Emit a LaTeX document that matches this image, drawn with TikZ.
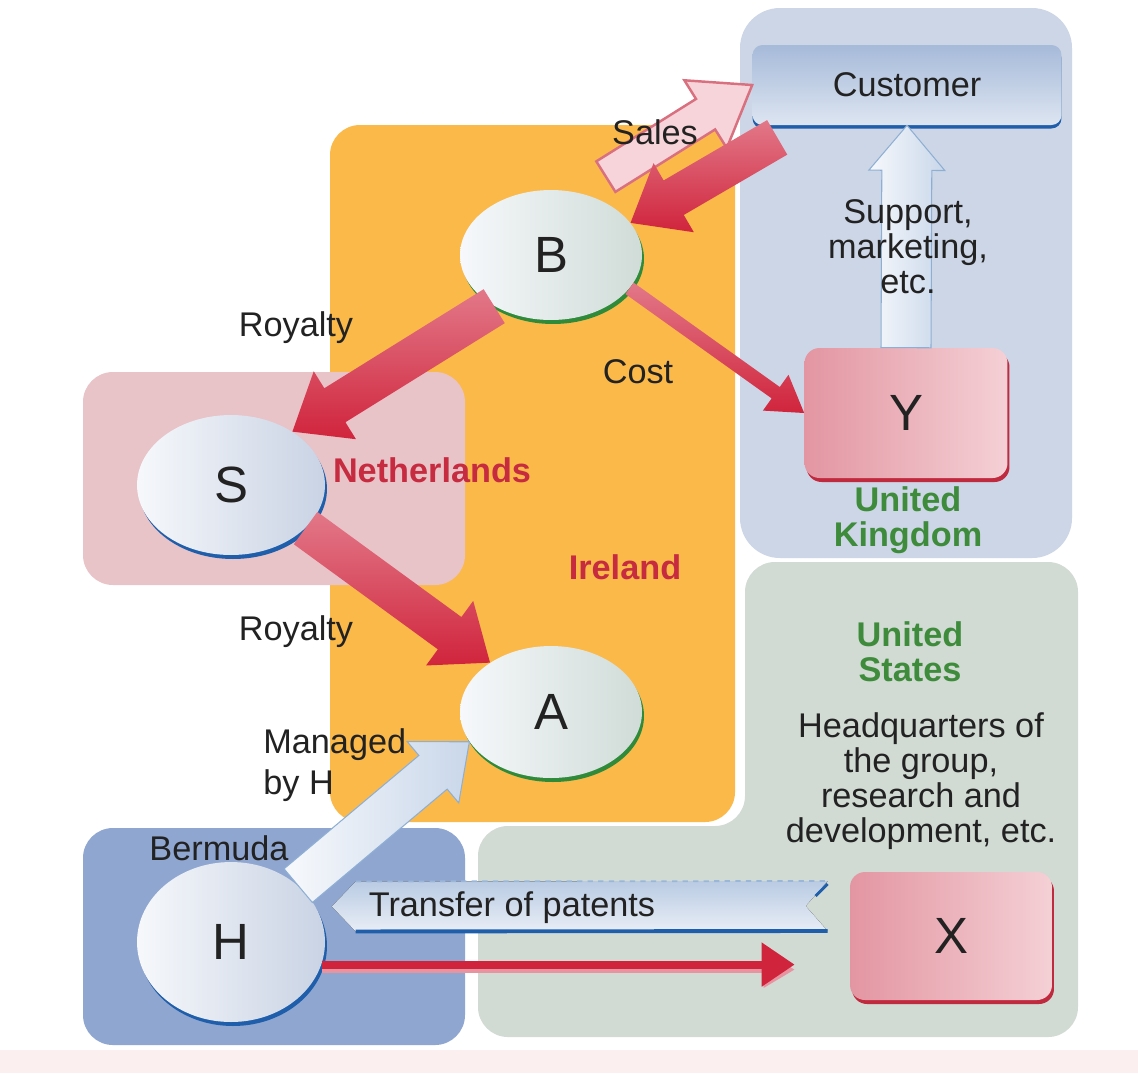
\documentclass[tikz,border=0pt]{standalone}
\usepackage{fontspec}
\setmainfont{Liberation Sans}
\usetikzlibrary{positioning,calc,shapes.geometric,shadows,arrows.meta}
\definecolor{irelandOrange}{HTML}{FBB94A}
\definecolor{ukBlue}{HTML}{CDD6E6}
\definecolor{usGreen}{HTML}{D1DAD3}
\definecolor{nlPink}{HTML}{E8C3C8}
\definecolor{bmBlue}{HTML}{8FA6D0}
\definecolor{stripPink}{HTML}{FCEFF0}
\definecolor{txtDark}{HTML}{222222}
\definecolor{labelRed}{HTML}{C62B40}
\definecolor{labelGreen}{HTML}{3E8C3B}
\definecolor{edgeBlue}{HTML}{1E5EAA}
\definecolor{edgeGreen}{HTML}{2F8A3A}
\definecolor{edgeRed}{HTML}{BF2A3E}
\definecolor{boxPinkDark}{HTML}{E396A2}
\definecolor{boxPinkLight}{HTML}{F4D0D5}
\definecolor{custBlueDark}{HTML}{A6BAD9}
\definecolor{custBlueLight}{HTML}{DDE5F1}
\definecolor{ballLight}{HTML}{F6F8FB}
\definecolor{ballBlue}{HTML}{C9D3E4}
\definecolor{ballGreen}{HTML}{D0DCD8}
\definecolor{arRedDark}{HTML}{D0243C}
\definecolor{arRedLight}{HTML}{E27888}
\definecolor{salesFill}{HTML}{F7D4D9}
\definecolor{salesLine}{HTML}{D9707F}
\definecolor{arWhite}{HTML}{F7F9FC}
\definecolor{arPale}{HTML}{C9D7EA}
\definecolor{bannerDark}{HTML}{B9CBE3}
\definecolor{bannerLight}{HTML}{E9EEF6}
\newcommand{\lblfont}{\fontsize{19.5}{20}\selectfont}
\newcommand{\bigfont}{\fontsize{29}{30}\selectfont}
% broad arrow: [style]{from}{to}{shaft half width}{head half width}{head length}
\newcommand{\fatarrow}[6][]{%
    \coordinate (fa-s) at (#2);
    \coordinate (fa-e) at (#3);
    \coordinate (fa-b) at ($(fa-e)!#6!(fa-s)$);
    \path[#1] ($(fa-s)!#4!90:(fa-e)$) -- ($(fa-b)!#4!90:(fa-e)$) -- ($(fa-b)!#5!90:(fa-e)$)
        -- (fa-e) -- ($(fa-b)!#5!-90:(fa-e)$) -- ($(fa-b)!#4!-90:(fa-e)$)
        -- ($(fa-s)!#4!-90:(fa-e)$) -- cycle;
}
\tikzset{
    region/.style={rounded corners=0.6cm},
    custbox/.style={rectangle,rounded corners=0.2cm,top color=custBlueDark,bottom color=custBlueLight,
        minimum width=6.18cm,minimum height=1.6cm,inner sep=0pt,font=\lblfont,text=txtDark,
        drop shadow={fill=edgeBlue,opacity=1,shadow xshift=0pt,shadow yshift=-0.07cm}},
    corpbox/.style={rectangle,rounded corners=0.3cm,left color=boxPinkDark,right color=boxPinkLight,
        minimum width=4.06cm,minimum height=2.6cm,inner sep=0pt,font=\bigfont,text=txtDark,
        drop shadow={fill=edgeRed,opacity=1,shadow xshift=0.04cm,shadow yshift=-0.08cm}},
    corpball/.style={ellipse,inner sep=0pt,font=\bigfont,text=txtDark,left color=ballLight},
    blueball/.style={corpball,right color=ballBlue,
        drop shadow={fill=edgeBlue,opacity=1,shadow xshift=0.04cm,shadow yshift=-0.08cm}},
    greenball/.style={corpball,right color=ballGreen,
        drop shadow={fill=edgeGreen,opacity=1,shadow xshift=0.04cm,shadow yshift=-0.08cm}},
    lbl/.style={font=\lblfont,text=txtDark,align=center,inner sep=0pt},
    countrylbl/.style={font=\lblfont\bfseries,align=center,inner sep=0pt},
    redflow/.style={top color=arRedLight,bottom color=arRedDark},
    paleflow/.style={left color=arWhite,right color=arPale,draw=edgeBlue!50,line width=0.6pt},
    salesflow/.style={fill=salesFill,draw=salesLine,line width=1.4pt},
    thinred/.style={draw=arRedDark,line width=0.16cm,-{Triangle[length=0.66cm,width=0.84cm]}},
    thinshade/.style={draw=arRedLight!80,line width=0.12cm,-{Triangle[length=0.62cm,width=0.7cm]}}
}

\begin{document}
\begin{tikzpicture}[x=0.02cm,y=-0.02cm]
    \useasboundingbox (0,0) rectangle (1138,1073);
    \fill[white] (0,0) rectangle (1138,1073);
    \fill[stripPink] (0,1050) rectangle (1138,1073);
    % countries
    \fill[region,irelandOrange] (330,125) rectangle (735,822);
    \fill[region,ukBlue,rounded corners=0.8cm] (740,8) rectangle (1072,558);
    \fill[region,usGreen] (745,562) -- (1078,562) -- (1078,1037) -- (478,1037) -- (478,826) -- (745,826) -- cycle;
    \fill[region,nlPink] (83,372) rectangle (465,585);
    \fill[region,bmBlue] (83,828) rectangle (465,1045);

    % companies
    \node[custbox] (cust) at (907,85) {Customer};
    \node[greenball,minimum width=3.64cm,minimum height=2.6cm] (B) at (551,255) {B};
    \node[blueball,minimum width=3.76cm,minimum height=2.8cm] (S) at (231,485) {S};
    \node[greenball,minimum width=3.64cm,minimum height=2.64cm] (A) at (551,712) {A};
    \node[blueball,minimum width=3.76cm,minimum height=3.2cm] (H) at (231,942) {H};
    \node[corpbox] (Y) at (906,413) {Y};
    \node[corpbox,minimum width=4.04cm,minimum height=2.56cm] (X) at (951,936) {X};

    % flows
    \fatarrow[salesflow]{$(B.60)+(20,-18)$}{cust.west}{0.36cm}{0.8cm}{1.1cm}
    \fatarrow[redflow]{$(cust.south west)+(25,12)$}{B.22}{0.4cm}{0.8cm}{1.0cm}
    \fatarrow[redflow]{B.222}{S.41}{0.4cm}{0.8cm}{1.0cm}
    \fatarrow[redflow]{S.330}{A.141}{0.4cm}{0.8cm}{1.0cm}
    \fatarrow[redflow]{B.337}{Y.west}{0.14cm}{0.44cm}{0.7cm}
    \fatarrow[paleflow]{Y.north}{cust.south}{0.5cm}{0.76cm}{0.9cm}
    \fatarrow[paleflow]{H.40}{A.200}{0.44cm}{0.8cm}{0.95cm}

    % patents banner
    \coordinate (patL) at ($(H.20)+(14,-4)$);
    \coordinate (patR) at ($(X.west)+(-22,-30)$);
    \fill[top color=bannerDark,bottom color=bannerLight] (patL) -- ($(patL)+(24,-25)$) -- ($(patR)+(0,-25)$)
        -- ($(patR)+(-22,0)$) -- ($(patR)+(0,25)$) -- ($(patL)+(24,25)$) -- cycle;
    \draw[edgeBlue!45,dashed,line width=1pt] ($(patL)+(24,-25)$) -- ($(patR)+(0,-25)$);
    \draw[edgeBlue,line width=2.2pt] ($(patL)+(24,25)$) -- ($(patR)+(0,25)$);
    \draw[edgeBlue,line width=1.6pt] ($(patR)+(0,-22)$) -- ($(patR)+(-12,-10)$);

    \coordinate (xin) at ($(H.-14 -| X.west)+(-55,0)$);
    \draw[thinshade] ([yshift=-0.1cm]H.-14) -- ([yshift=-0.1cm]xin);
    \draw[thinred] (H.-14) -- (xin);

    % labels
    \node[lbl] (lblSales) at (655,132) {Sales};
    \node[lbl] (lblSupport) at (908,247) {Support,\\marketing,\\etc.};
    \node[lbl] (lblRoy1) at (296,328) {Royalty};
    \node[lbl] (lblCost) at (638,372) {Cost};
    \node[lbl] (lblRoy2) at (296,632) {Royalty};
    \node[lbl,align=left,anchor=west] (lblManaged) at (263,765) {Managed\\[3pt]by H};
    \node[lbl] (lblBermuda) at (219,848) {Bermuda};
    \node[lbl] (lblPatents) at (512,908) {Transfer of patents};
    \node[lbl] (lblHQ) at (921,781) {Headquarters of\\the group,\\research and\\development, etc.};
    \node[countrylbl,text=labelRed] (lblNL) at (432,470) {Netherlands};
    \node[countrylbl,text=labelRed] (lblIE) at (625,567) {Ireland};
    \node[countrylbl,text=labelGreen] (lblUK) at (908,520) {United\\Kingdom};
    \node[countrylbl,text=labelGreen] (lblUS) at (910,652) {United\\States};
\end{tikzpicture}
\end{document}
